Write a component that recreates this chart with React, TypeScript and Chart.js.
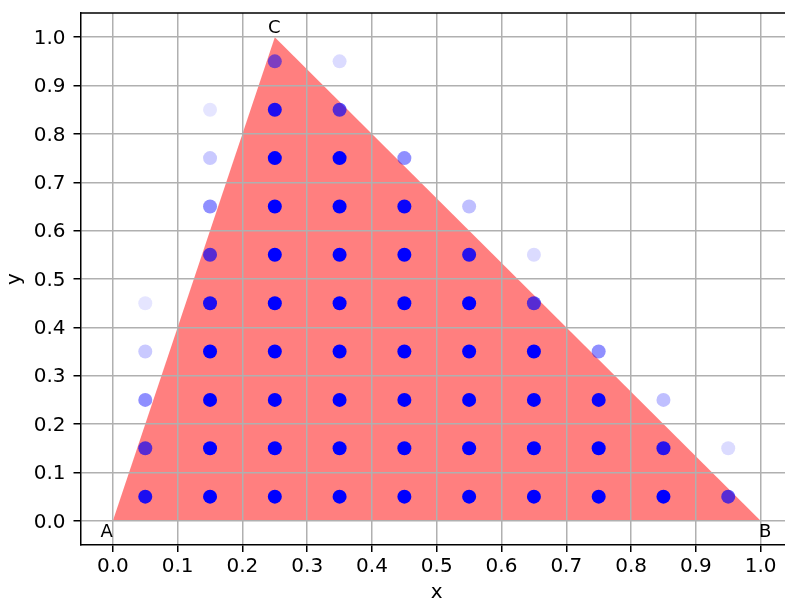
import { useEffect, useRef } from "react";
import { Chart, registerables } from "chart.js";

Chart.register(...registerables);

const xTicks = [0.0, 0.1, 0.2, 0.3, 0.4, 0.5, 0.6, 0.7, 0.8, 0.9, 1.0];
const yTicks = [0.0, 0.1, 0.2, 0.3, 0.4, 0.5, 0.6, 0.7, 0.8, 0.9, 1.0];

const triangleX = [0, 1, 0.25];
const triangleY = [0, 0, 1];
const vertexLabels = ["A", "B", "C"];

const pointX = [
  0.05, 0.05, 0.05, 0.05, 0.05,
  0.15, 0.15, 0.15, 0.15, 0.15, 0.15, 0.15, 0.15, 0.15,
  0.25, 0.25, 0.25, 0.25, 0.25, 0.25, 0.25, 0.25, 0.25, 0.25,
  0.35, 0.35, 0.35, 0.35, 0.35, 0.35, 0.35, 0.35, 0.35, 0.35,
  0.45, 0.45, 0.45, 0.45, 0.45, 0.45, 0.45, 0.45,
  0.55, 0.55, 0.55, 0.55, 0.55, 0.55, 0.55,
  0.65, 0.65, 0.65, 0.65, 0.65, 0.65,
  0.75, 0.75, 0.75, 0.75,
  0.85, 0.85, 0.85,
  0.95, 0.95,
];
const pointY = [
  0.05, 0.15, 0.25, 0.35, 0.45,
  0.05, 0.15, 0.25, 0.35, 0.45, 0.55, 0.65, 0.75, 0.85,
  0.05, 0.15, 0.25, 0.35, 0.45, 0.55, 0.65, 0.75, 0.85, 0.95,
  0.05, 0.15, 0.25, 0.35, 0.45, 0.55, 0.65, 0.75, 0.85, 0.95,
  0.05, 0.15, 0.25, 0.35, 0.45, 0.55, 0.65, 0.75,
  0.05, 0.15, 0.25, 0.35, 0.45, 0.55, 0.65,
  0.05, 0.15, 0.25, 0.35, 0.45, 0.55,
  0.05, 0.15, 0.25, 0.35,
  0.05, 0.15, 0.25,
  0.05, 0.15,
];
const pointAlpha = [
  0.89, 0.66, 0.44, 0.21, 0.1,
  1, 1, 1, 1, 0.89, 0.66, 0.44, 0.21, 0.1,
  1, 1, 1, 1, 1, 1, 1, 1, 0.89, 0.51,
  1, 1, 1, 1, 1, 1, 1, 1, 0.66, 0.14,
  1, 1, 1, 1, 1, 1, 0.96, 0.44,
  1, 1, 1, 1, 1, 0.85, 0.25,
  1, 1, 1, 1, 0.66, 0.14,
  1, 1, 0.96, 0.44,
  1, 0.85, 0.25,
  0.66, 0.14,
];

const FONT = "'DejaVu Sans', sans-serif";

const trianglePlugin = {
  id: "trianglePlugin",
  beforeDatasetsDraw(chart: any) {
    const { ctx } = chart;
    const xs = chart.scales.x;
    const ys = chart.scales.y;
    ctx.save();
    ctx.beginPath();
    triangleX.forEach((v, i) => {
      const px = xs.getPixelForValue(v);
      const py = ys.getPixelForValue(triangleY[i]);
      if (i === 0) ctx.moveTo(px, py);
      else ctx.lineTo(px, py);
    });
    ctx.closePath();
    ctx.fillStyle = "rgba(255,0,0,0.5)";
    ctx.fill();
    ctx.restore();
  },
  afterDraw(chart: any) {
    const { ctx, chartArea } = chart;
    const xs = chart.scales.x;
    const ys = chart.scales.y;
    ctx.save();
    // top & right spines
    ctx.strokeStyle = "#000";
    ctx.lineWidth = 1.5;
    ctx.beginPath();
    ctx.moveTo(chartArea.left, chartArea.top);
    ctx.lineTo(chartArea.right, chartArea.top);
    ctx.lineTo(chartArea.right, chartArea.bottom);
    ctx.stroke();
    // vertex labels
    ctx.fillStyle = "#000";
    ctx.font = `18px ${FONT}`;
    ctx.textBaseline = "alphabetic";
    vertexLabels.forEach((lab, i) => {
      const px = xs.getPixelForValue(triangleX[i]);
      const py = ys.getPixelForValue(triangleY[i]);
      if (i === 0) {
        ctx.textAlign = "right";
        ctx.fillText(lab, px, py + 16.5);
      } else if (i === 1) {
        ctx.textAlign = "left";
        ctx.fillText(lab, px - 1.5, py + 16.5);
      } else {
        ctx.textAlign = "center";
        ctx.fillText(lab, px - 0.5, py - 3.7);
      }
    });
    ctx.restore();
  },
};

export default function App() {
  const ref = useRef<HTMLCanvasElement | null>(null);

  useEffect(() => {
    document.body.style.margin = "0";
    const canvas = ref.current;
    if (!canvas) return;
    const tickFont = { family: FONT, size: 20 };
    const gridOpts = {
      color: "#b0b0b0",
      lineWidth: 1.5,
      tickLength: 7,
      tickColor: "#000",
      tickWidth: 1.5,
      z: 1,
    };
    const borderOpts = { color: "#000", width: 1.5, z: 1 };
    const chart = new Chart(canvas, {
      type: "scatter",
      data: {
        datasets: [
          {
            data: pointX.map((x, i) => ({ x, y: pointY[i] })),
            backgroundColor: pointAlpha.map((a) => `rgba(0,0,255,${a})`),
            borderWidth: 0,
            pointRadius: 7,
            pointHoverRadius: 7,
          },
        ],
      },
      options: {
        responsive: false,
        animation: false,
        devicePixelRatio: 1,
        events: [],
        layout: { padding: { left: 0, top: 13, right: 4.5, bottom: 0 } },
        plugins: { legend: { display: false }, tooltip: { enabled: false } },
        scales: {
          x: {
            type: "linear",
            min: -0.05,
            max: 1.05,
            afterBuildTicks: (s: any) => {
              s.ticks = xTicks.map((v) => ({ value: v }));
            },
            afterFit: (s: any) => {
              s.height = 56;
              s.paddingLeft = 0;
              s.paddingRight = 0;
            },
            ticks: {
              callback: (v: any) => Number(v).toFixed(1),
              font: tickFont,
              color: "#000",
              padding: 3,
              maxRotation: 0,
              autoSkip: false,
            },
            grid: gridOpts,
            border: borderOpts,
            title: {
              display: true,
              text: "x",
              color: "#000",
              font: { family: FONT, size: 20, lineHeight: 1 },
              padding: { top: 0, bottom: -2.1 },
            },
          },
          y: {
            type: "linear",
            min: -0.05,
            max: 1.05,
            afterBuildTicks: (s: any) => {
              s.ticks = yTicks.map((v) => ({ value: v }));
            },
            afterFit: (s: any) => {
              s.width = 80.5;
              s.paddingTop = 0;
              s.paddingBottom = 0;
            },
            ticks: {
              callback: (v: any) => Number(v).toFixed(1),
              font: tickFont,
              color: "#000",
              padding: 8,
              labelOffset: 1.5,
              autoSkip: false,
            },
            grid: gridOpts,
            border: borderOpts,
            title: {
              display: true,
              text: "y",
              color: "#000",
              font: { family: FONT, size: 20, lineHeight: 1 },
              padding: { top: 5, bottom: 0 },
            },
          },
        },
      },
      plugins: [trianglePlugin],
    } as any);
    return () => chart.destroy();
  }, []);

  return (
    <div style={{ width: 785, height: 601, overflow: "hidden", position: "relative" }}>
      <canvas ref={ref} width={800} height={601} style={{ display: "block", width: 800, height: 601 }} />
    </div>
  );
}
